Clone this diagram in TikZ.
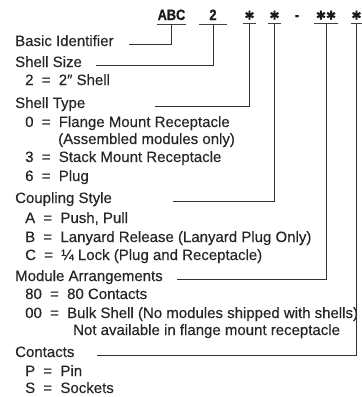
\documentclass[tikz,border=0pt]{standalone}
\usepackage{fontspec}
\setmainfont[FakeBold=0.35]{Liberation Sans}
\newfontfamily\codefont[FakeStretch=0.85,FakeBold=0.6]{Liberation Sans}
\newfontfamily\symfont[FakeBold=0.8]{DejaVu Sans}
\usetikzlibrary{positioning}
\newcommand{\eqsp}{\hspace{0.55em}=\hspace{0.55em}}

\begin{document}
\begin{tikzpicture}[x=1pt,y=-1pt,
    txt/.style={anchor=base west,inner sep=0pt,text=black!85,font=\fontsize{15}{18}\selectfont},
    code/.style={anchor=base,inner xsep=0pt,inner ysep=4pt,text depth=0pt,text=black!90,font=\codefont\bfseries\fontsize{15}{18}\selectfont},
    star/.style={code,font=\symfont\fontsize{12}{14}\selectfont},
    uline/.style={line width=1.1pt,black!75},
    lead/.style={line width=0.6pt,black!80}]
  \useasboundingbox (0,0) rectangle (362,397);
  % part number
  \node[code,minimum width=27] (abc) at (171.5,20) {ABC};
  \node[code,minimum width=28] (sz) at (213,20) {2};
  \node[star,minimum width=13] (ty) at (249.5,19.5) {✱};
  \node[star,minimum width=12] (cp) at (274.5,19.5) {✱};
  \node[code] (dash) at (297,20) {-};
  \node[star,minimum width=24] (ma) at (326,19.5) {✱✱};
  \node[star,minimum width=11] (ct) at (356.5,19.5) {✱};
  \foreach \n in {abc,sz,ty,cp,ma,ct}
    \draw[uline] (\n.south west)--(\n.south east);
  % headings
  \node[txt] (bi) at (15,46) {Basic Identifier};
  \node[txt] (ss) at (15,67) {Shell Size};
  \node[txt] (ss2) at (25,85) {2\eqsp 2″ Shell};
  \node[txt] (st) at (15,108) {Shell Type};
  \node[txt] (st0) at (25,127) {0\eqsp Flange Mount Receptacle};
  \node[txt] (st0b) at (58,144) {(Assembled modules only)};
  \node[txt] (st3) at (25,162) {3\eqsp Stack Mount Receptacle};
  \node[txt] (st6) at (25,181) {6\eqsp Plug};
  \node[txt] (cs) at (15,203) {Coupling Style};
  \node[txt] (csa) at (25,223) {A\eqsp Push, Pull};
  \node[txt] (csb) at (25,242) {B\eqsp Lanyard Release (Lanyard Plug Only)};
  \node[txt] (csc) at (25,260) {C\eqsp ¼ Lock (Plug and Receptacle)};
  \node[txt] (mar) at (15,281) {Module Arrangements};
  \node[txt] (mar80) at (25,299) {80\eqsp 80 Contacts};
  \node[txt] (mar00) at (25,318) {00\eqsp Bulk Shell (No modules shipped with shells)};
  \node[txt] (mar00b) at (73,335) {Not available in flange mount receptacle};
  \node[txt] (con) at (15,357) {Contacts};
  \node[txt] (conp) at (25,376) {P\eqsp Pin};
  \node[txt] (cons) at (25,393) {S\eqsp Sockets};
  % leaders
  \coordinate (bi-l) at (129,44);
  \coordinate (ss-l) at (96,65);
  \coordinate (st-l) at (155,106);
  \coordinate (cs-l) at (173,201);
  \coordinate (mar-l) at (177,279);
  \coordinate (con-l) at (97,355);
  \draw[lead] (bi-l) -| (abc.south);
  \draw[lead] (ss-l) -| (sz.south);
  \draw[lead] (st-l) -| (ty.south);
  \draw[lead] (cs-l) -| (cp.south);
  \draw[lead] (mar-l) -| (ma.south);
  \draw[lead] (con-l) -| (ct.south);
\end{tikzpicture}
\end{document}
